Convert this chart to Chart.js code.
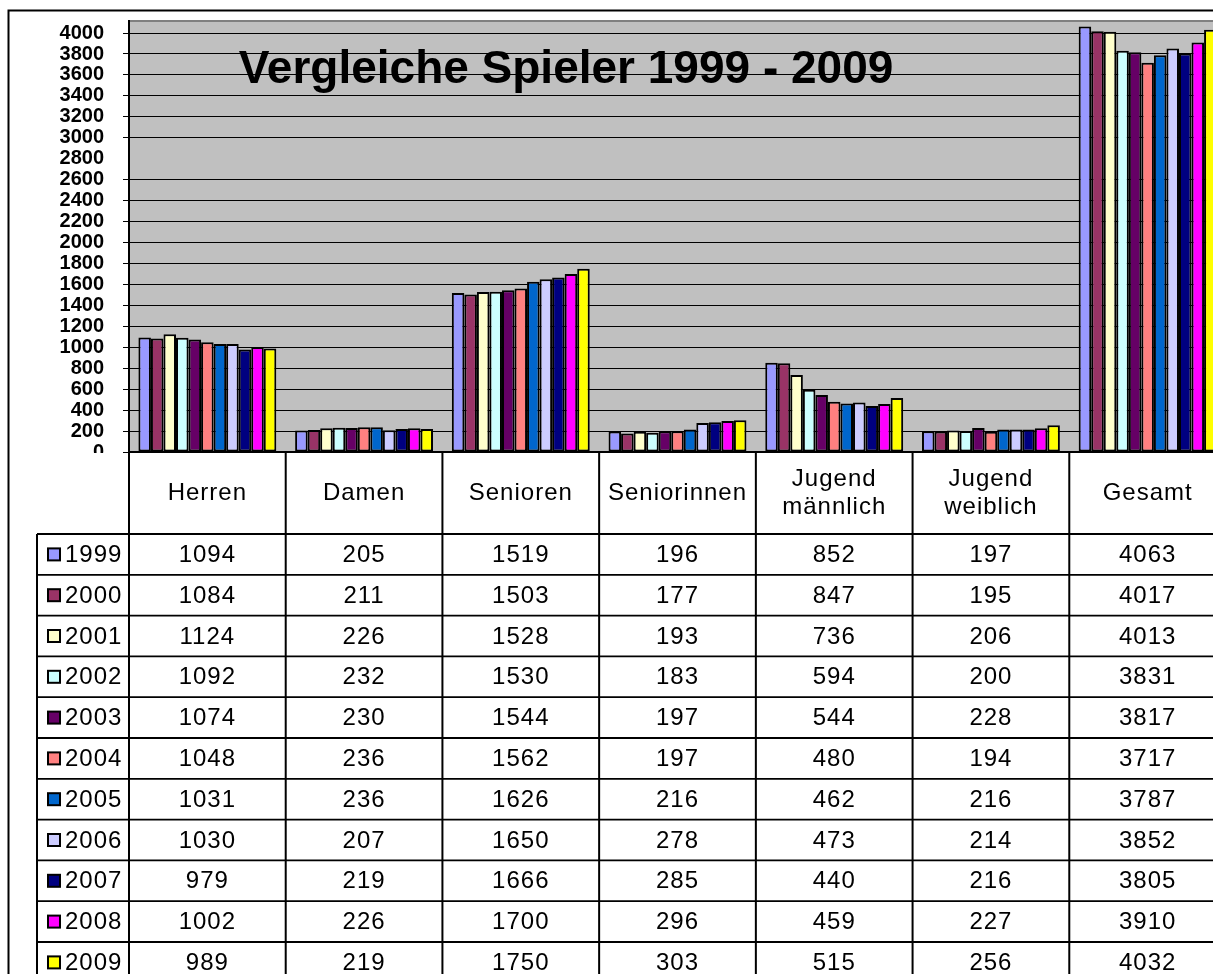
<!DOCTYPE html>
<html>
<head>
<meta charset="utf-8">
<title>Vergleiche Spieler 1999 - 2009</title>
<script src="https://cdn.jsdelivr.net/npm/chart.js@4"></script>
<style>
  html, body { margin: 0; padding: 0; background: #fff; overflow: hidden; }
  #wrap { width: 1226px; height: 974px; }
</style>
</head>
<body>
<div id="wrap"><canvas id="chart"></canvas></div>
<script>
const categories = ["Herren", "Damen", "Senioren", "Seniorinnen", ["Jugend", "männlich"], ["Jugend", "weiblich"], "Gesamt"];
const years = ["1999", "2000", "2001", "2002", "2003", "2004", "2005", "2006", "2007", "2008", "2009"];

const values1999 = [1094, 205, 1519, 196, 852, 197, 4063];
const values2000 = [1084, 211, 1503, 177, 847, 195, 4017];
const values2001 = [1124, 226, 1528, 193, 736, 206, 4013];
const values2002 = [1092, 232, 1530, 183, 594, 200, 3831];
const values2003 = [1074, 230, 1544, 197, 544, 228, 3817];
const values2004 = [1048, 236, 1562, 197, 480, 194, 3717];
const values2005 = [1031, 236, 1626, 216, 462, 216, 3787];
const values2006 = [1030, 207, 1650, 278, 473, 214, 3852];
const values2007 = [979, 219, 1666, 285, 440, 216, 3805];
const values2008 = [1002, 226, 1700, 296, 459, 227, 3910];
const values2009 = [989, 219, 1750, 303, 515, 256, 4032];

const seriesValues = [values1999, values2000, values2001, values2002, values2003, values2004,
                      values2005, values2006, values2007, values2008, values2009];

const yearColors = ["#9999ff", "#993366", "#ffffcc", "#ccffff", "#660066", "#ff8080",
                    "#0066cc", "#ccccff", "#000080", "#ff00ff", "#ffff00"];

const yTicks = [0, 200, 400, 600, 800, 1000, 1200, 1400, 1600, 1800, 2000, 2200, 2400,
                2600, 2800, 3000, 3200, 3400, 3600, 3800, 4000];

const FONT = '"Liberation Sans", Arial, sans-serif';

// grey plot area, outer frame and the title inside the plot
const backdrop = {
    id: "backdrop",
    beforeDraw(chart) {
        const { ctx, chartArea: a } = chart;
        ctx.save();
        ctx.fillStyle = "#c0c0c0";
        ctx.fillRect(a.left, a.top, a.right - a.left, a.bottom - a.top);
        ctx.strokeStyle = "#808080";
        ctx.lineWidth = 2;
        ctx.beginPath();
        ctx.moveTo(a.left, a.top);
        ctx.lineTo(a.right, a.top);
        ctx.stroke();
        ctx.strokeStyle = "#000";
        ctx.beginPath();
        ctx.moveTo(8.5, chart.height);
        ctx.lineTo(8.5, 10.5);
        ctx.lineTo(chart.width, 10.5);
        ctx.stroke();
        ctx.restore();
    },
    beforeDatasetsDraw(chart) {
        const ctx = chart.ctx;
        ctx.save();
        ctx.fillStyle = "#000";
        ctx.font = "bold 46px " + FONT;
        ctx.textAlign = "center";
        ctx.textBaseline = "alphabetic";
        ctx.fillText("Vergleiche Spieler 1999 - 2009", 566, 83);
        ctx.restore();
    }
};

// data table under the plot, columns taken from the x scale
const dataTable = {
    id: "dataTable",
    afterDraw(chart) {
        const { ctx, chartArea: a } = chart;
        const x = chart.scales.x;
        const step = x.getPixelForValue(1) - x.getPixelForValue(0);
        const edges = categories.map((c, i) => x.getPixelForValue(i) - step / 2);
        edges.push(edges[edges.length - 1] + step);

        const top = a.bottom;
        const headH = 82;
        const rowH = 40.8;
        const legendLeft = 37;
        const bottom = chart.height;

        ctx.save();
        ctx.fillStyle = "#fff";
        ctx.fillRect(10, top + 1, chart.width, bottom - top);

        ctx.strokeStyle = "#000";
        ctx.lineWidth = 1.8;
        ctx.beginPath();
        ctx.moveTo(a.left, top);
        ctx.lineTo(chart.width, top);
        for (let r = 0; r <= years.length; r++) {
            const y = top + headH + r * rowH;
            ctx.moveTo(legendLeft, y);
            ctx.lineTo(chart.width, y);
        }
        ctx.stroke();

        ctx.lineWidth = 2;
        ctx.beginPath();
        edges.forEach(e => { ctx.moveTo(e, top); ctx.lineTo(e, bottom); });
        ctx.moveTo(legendLeft, top + headH);
        ctx.lineTo(legendLeft, bottom);
        ctx.stroke();

        ctx.fillStyle = "#000";
        ctx.font = "24px " + FONT;
        ctx.letterSpacing = "1px";
        ctx.textAlign = "center";
        ctx.textBaseline = "middle";
        categories.forEach((c, i) => {
            const cx = (edges[i] + edges[i + 1]) / 2;
            const cy = top + headH / 2;
            if (Array.isArray(c)) {
                ctx.fillText(c[0], cx, cy - 14);
                ctx.fillText(c[1], cx, cy + 14);
            } else {
                ctx.fillText(c, cx, cy);
            }
        });

        years.forEach((yr, r) => {
            const cy = top + headH + r * rowH + rowH / 2 + 1;
            seriesValues[r].forEach((v, i) => {
                ctx.fillText(String(v), (edges[i] + edges[i + 1]) / 2, cy);
            });
            ctx.fillStyle = yearColors[r];
            ctx.fillRect(48, cy - 7, 12, 12);
            ctx.lineWidth = 2;
            ctx.strokeRect(48, cy - 7, 12, 12);
            ctx.fillStyle = "#000";
            ctx.textAlign = "left";
            ctx.fillText(yr, 65, cy);
            ctx.textAlign = "center";
        });
        ctx.restore();
    }
};

new Chart(document.getElementById("chart"), {
    type: "bar",
    data: {
        labels: categories,
        datasets: years.map((yr, i) => ({
            label: yr,
            data: seriesValues[i],
            backgroundColor: yearColors[i],
            borderColor: "#000",
            borderWidth: 2,
            borderSkipped: false,
            categoryPercentage: 0.88,
            barPercentage: 1.0
        }))
    },
    options: {
        responsive: true,
        maintainAspectRatio: false,
        animation: false,
        layout: { padding: { top: 21, bottom: 522, left: 0, right: 0 } },
        plugins: {
            legend: { display: false },
            title: { display: false },
            tooltip: { enabled: false }
        },
        scales: {
            x: { display: false },
            y: {
                min: 0,
                max: 4115,
                afterBuildTicks(scale) {
                    scale.ticks = yTicks.map(v => ({ value: v }));
                },
                afterFit(scale) {
                    scale.width = 129;
                    scale.paddingTop = 0;
                    scale.paddingBottom = 0;
                },
                border: { display: true, color: "#000", width: 2 },
                grid: {
                    color: ctx => (ctx.tick && ctx.tick.value === 2800 ? "rgba(0,0,0,0)" : "#000"),
                    lineWidth: 1,
                    tickLength: 6,
                    drawTicks: true
                },
                ticks: {
                    color: "#000",
                    padding: 19,
                    autoSkip: false,
                    font: { family: FONT, size: 20, weight: "bold", lineHeight: 1 },
                    callback: v => String(v)
                }
            }
        }
    },
    plugins: [backdrop, dataTable]
});
</script>
</body>
</html>
